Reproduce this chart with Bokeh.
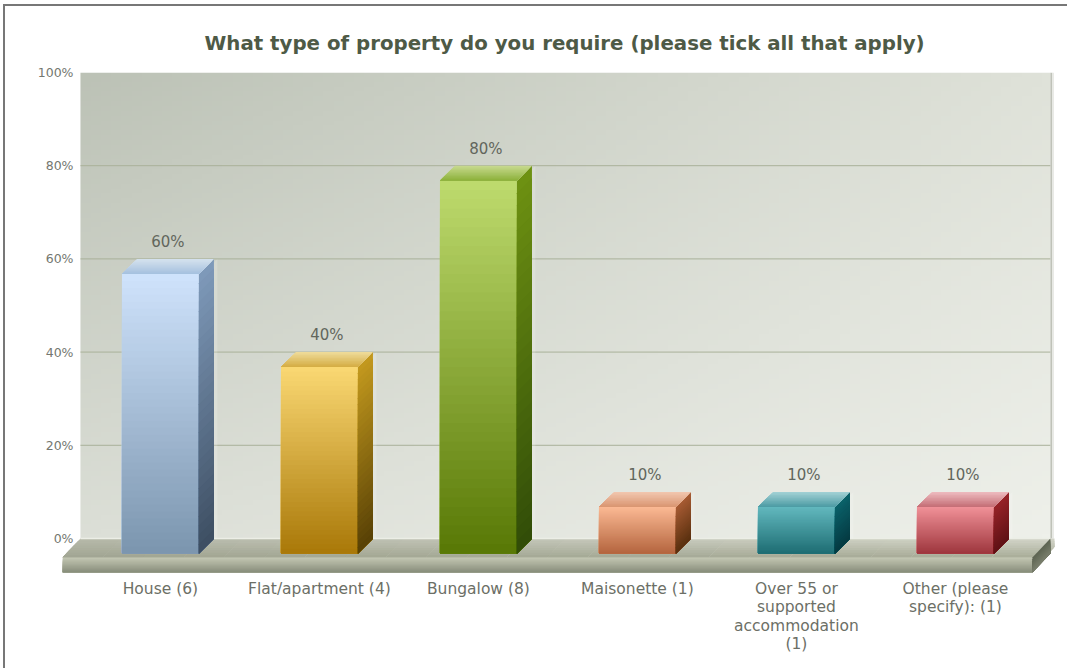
import numpy as np
from bokeh.core.properties import value
from bokeh.embed import file_html
from bokeh.models import FixedTicker, Title
from bokeh.plotting import figure
from bokeh.resources import INLINE

# Survey answers
categories = ["House (6)", "Flat/apartment (4)", "Bungalow (8)", "Maisonette (1)",
              "Over 55 or\nsupported\naccommodation\n(1)", "Other (please\nspecify): (1)"]
shares = [60, 40, 80, 10, 10, 10]
share_labels = ["60%", "40%", "80%", "10%", "10%", "10%"]
y_ticks = [0, 20, 40, 60, 80, 100]
y_tick_labels = ["0%", "20%", "40%", "60%", "80%", "100%"]

# Colour ramps per bar: (start, end) of each face
front_top = ["#cfe3fc", "#fad873", "#bedb6e", "#fbb994", "#62b8be", "#f09198"]
front_bottom = ["#7b95ae", "#a97808", "#587805", "#b4653e", "#1e6d73", "#9e363d"]
side_top = ["#7f9aba", "#c49a1e", "#6e9212", "#a85c34", "#0b636b", "#982429"]
side_bottom = ["#3d4e62", "#574005", "#314c08", "#59300f", "#053a42", "#5f1216"]
lid_back = ["#d6e2ee", "#efdc9c", "#c8da90", "#f2c8b0", "#a4d2d6", "#eebcc0"]
lid_front = ["#a4c0de", "#d4ac42", "#8bb038", "#d99470", "#4a9aa2", "#c46c74"]

# Scale constants for the pseudo-3D projection, in axis units
BAR_W = 0.484
DEPTH_X, DEPTH_Y = 0.0943, 3.22
WALL_L, WALL_R = -0.503, 5.597
FLOOR_DX, FLOOR_DY, FLOOR_H = 0.113, 4.08, 3.22


def rgb(h):
    return np.array([int(h[i:i + 2], 16) for i in (1, 3, 5)], dtype=float)


def mix(a, b, t):
    c = rgb(a) * (1 - t) + rgb(b) * t
    return "#%02x%02x%02x" % tuple(int(round(v)) for v in c)


# The page frame is a CSS border, so the plot starts 5 px in and 6 px down
p = figure(width=1062, height=662, output_backend="svg", toolbar_location=None,
           x_range=(-0.616, 5.623), y_range=(-7.3, 100),
           frame_width=992, frame_height=500,
           min_border_left=57, min_border_right=13, min_border_top=66, min_border_bottom=96,
           background_fill_color="#ffffff", border_fill_color="#ffffff",
           margin=(4, 0, 0, 3),
           styles={"border-left": "2px solid #777777", "border-top": "2px solid #777777",
                   "box-sizing": "content-box"})
p.outline_line_color = None
p.grid.visible = False


def face(corners_top, corners_bottom, c0, c1, n=24):
    """Fill a four-sided face with a ramp; each strip reaches the far edge and the next paints over it."""
    xs, ys, cols = [], [], []
    (ax, ay), (bx, by) = corners_top
    (cx, cy), (dx, dy) = corners_bottom
    for k in range(n):
        t0 = k / n
        xs.append([ax + (cx - ax) * t0, bx + (dx - bx) * t0, dx, cx])
        ys.append([ay + (cy - ay) * t0, by + (dy - by) * t0, dy, cy])
        cols.append(mix(c0, c1, (k + 0.5) / n))
    p.patches(xs, ys, fill_color=cols, line_color=None)


# Back wall: diagonal ramp from the upper left to the lower right
u, v = np.meshgrid(np.linspace(0, 1, 96), np.linspace(0, 1, 96))  # v=0 at the bottom
wall = (rgb("#dcdfd7")[None, None] * ((1 - u) * (1 - v))[..., None]
        + rgb("#eef0ea")[None, None] * (u * (1 - v))[..., None]
        + rgb("#bcc2b6")[None, None] * ((1 - u) * v)[..., None]
        + rgb("#dfe2d9")[None, None] * (u * v)[..., None])
rgba = np.zeros((96, 96), dtype=np.uint32)
view = rgba.view(dtype=np.uint8).reshape((96, 96, 4))
view[..., :3] = wall.astype(np.uint8)
view[..., 3] = 255
p.image_rgba(image=[rgba], x=WALL_L, y=0, dw=WALL_R - WALL_L, dh=100)

# Soft edge on the right of the wall
p.quad(left=WALL_R, right=WALL_R + 0.012, bottom=0, top=100, fill_color="#bfc2b8", line_color=None)
p.quad(left=WALL_R + 0.012, right=WALL_R + 0.022, bottom=0, top=100, fill_color="#e6e7e2", line_color=None)

# Gridlines
grid_y = [t for t in y_ticks if 0 < t < 100]
p.segment(x0=[WALL_L] * len(grid_y), x1=[WALL_R] * len(grid_y), y0=grid_y, y1=grid_y,
          line_color="#a9b199", line_width=1)

# Floor slab: top, front and end faces
top_back = "#d4d6ca"
top_front = "#a8ac98"
N_COL = 24
x_span = WALL_R - WALL_L
for j in range(N_COL):
    s0, s1 = j / N_COL, (j + 1.3) / N_COL
    shade = 0.5 * (1 - (j + 0.5) / N_COL)
    face([(WALL_L + x_span * s0, 0), (WALL_L + x_span * s1, 0)],
         [(WALL_L - FLOOR_DX + x_span * s0, -FLOOR_DY), (WALL_L - FLOOR_DX + x_span * s1, -FLOOR_DY)],
         mix(top_back, "#989c8a", shade), mix(top_front, "#8f9482", shade * 0.6), n=8)
p.segment(x0=[WALL_L], x1=[WALL_R], y0=[0], y1=[0], line_color="#eceee6", line_width=1.5)
face([(WALL_L - FLOOR_DX, -FLOOR_DY), (WALL_R - FLOOR_DX, -FLOOR_DY)],
     [(WALL_L - FLOOR_DX, -FLOOR_DY - FLOOR_H), (WALL_R - FLOOR_DX, -FLOOR_DY - FLOOR_H)],
     "#c4c8b4", "#868b79", n=14)
face([(WALL_R - FLOOR_DX, -FLOOR_DY), (WALL_R, 0)],
     [(WALL_R - FLOOR_DX, -FLOOR_DY - FLOOR_H), (WALL_R, -FLOOR_H)],
     "#5c6351", "#7a7f6d", n=8)

# Bars: the back top edge sits on the share, the front face is projected forward
for i, val in enumerate(shares):
    l, r = i - BAR_W / 2, i + BAR_W / 2
    ft = val - DEPTH_Y
    fb = -DEPTH_Y
    # pale glow on the wall behind the bar's right side
    p.patch([r, r + DEPTH_X, r + DEPTH_X + 0.022, r + DEPTH_X + 0.022, r + 0.02],
            [fb, 0, 0, val, ft], fill_color="#ffffff", fill_alpha=0.16, line_color=None)
    face([(l, ft), (r, ft)], [(l, fb), (r, fb)], front_top[i], front_bottom[i], n=40)
    face([(r, ft), (r + DEPTH_X, val)], [(r, fb), (r + DEPTH_X, 0)], side_top[i], side_bottom[i], n=30)
    face([(l + DEPTH_X, val), (r + DEPTH_X, val)], [(l, ft), (r, ft)], lid_back[i], lid_front[i], n=10)

# Value labels above each bar
p.text(x=[i + DEPTH_X / 2 for i in range(len(shares))], y=shares, text=share_labels,
       text_font_size="15px", text_color="#62665c", text_font=value("DejaVu Sans"),
       text_align="center", text_baseline="middle", y_offset=-17)

# Axes
xa = p.xaxis[0]
xa.ticker = FixedTicker(ticks=list(range(len(categories))))
xa.major_label_overrides = dict(enumerate(categories))
xa.major_label_text_font = "DejaVu Sans"
xa.major_label_text_font_size = "15.5px"
xa.major_label_text_color = "#6c6f66"
xa.major_label_text_line_height = 1.03
xa.major_label_standoff = 1
xa.axis_line_color = None
xa.major_tick_line_color = None
xa.minor_tick_line_color = None

ya = p.yaxis[0]
ya.ticker = FixedTicker(ticks=y_ticks)
ya.major_label_overrides = dict(zip(y_ticks, y_tick_labels))
ya.major_label_text_font = "DejaVu Sans"
ya.major_label_text_font_size = "12.5px"
ya.major_label_text_color = "#74776f"
ya.major_label_standoff = -17
ya.axis_line_color = None
ya.major_tick_line_color = None
ya.minor_tick_line_color = None

p.title = Title(text="What type of property do you require (please tick all that apply)",
                text_font="DejaVu Sans", text_font_style="bold", text_font_size="19.8px",
                text_color="#4e5a46", align="left", offset=142, standoff=35)

open("out.html", "w").write(file_html(p, INLINE))
